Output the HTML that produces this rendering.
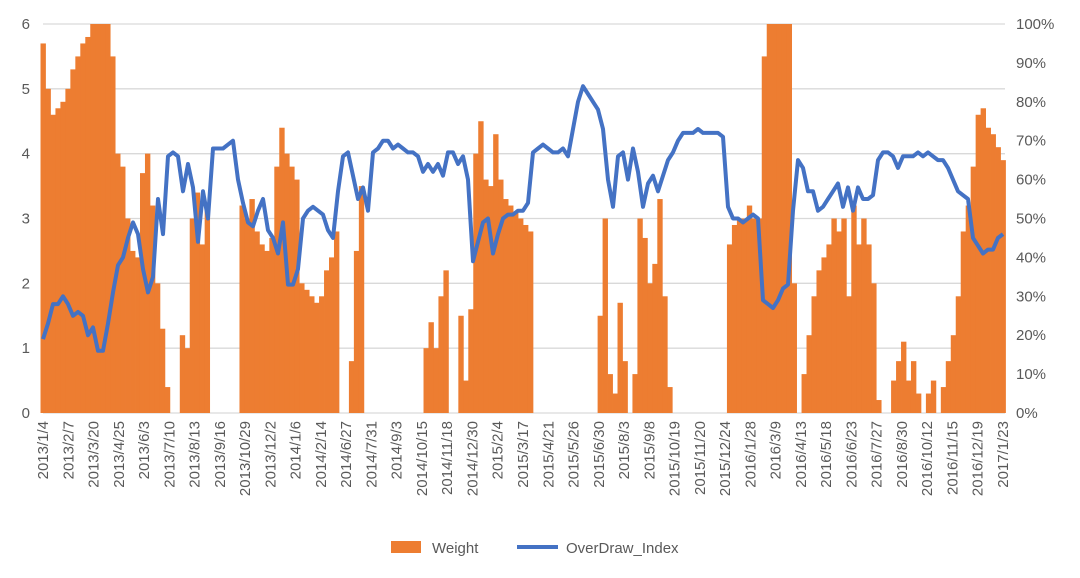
<!DOCTYPE html>
<html><head><meta charset="utf-8"><style>
body{margin:0;background:#fff;}
svg text{font-family:"Liberation Sans",sans-serif;fill:#595959;}
</style></head><body>
<svg id="chart" width="1080" height="573" viewBox="0 0 1080 573" xmlns="http://www.w3.org/2000/svg">
<g id="grid"></g>
<g id="bars"></g>
<g id="lineg"></g>
<g id="axes"></g>
<g>
<rect x="391" y="541" width="30" height="12" fill="#ED7D31"/>
<text x="432" y="553" font-size="15">Weight</text>
<line x1="517" y1="547" x2="558" y2="547" stroke="#4472C4" stroke-width="4"/>
<text x="566" y="553" font-size="15">OverDraw_Index</text>
</g>
</svg>
<script>
const leftTicks=["0","1","2","3","4","5","6"];
const rightTicks=["0%","10%","20%","30%","40%","50%","60%","70%","80%","90%","100%"];
const dateLabels=["2013/1/4","2013/2/7","2013/3/20","2013/4/25","2013/6/3","2013/7/10","2013/8/13","2013/9/16","2013/10/29","2013/12/2","2014/1/6","2014/2/14","2014/6/27","2014/7/31","2014/9/3","2014/10/15","2014/11/18","2014/12/30","2015/2/4","2015/3/17","2015/4/21","2015/5/26","2015/6/30","2015/8/3","2015/9/8","2015/10/19","2015/11/20","2015/12/24","2016/1/28","2016/3/9","2016/4/13","2016/5/18","2016/6/23","2016/7/27","2016/8/30","2016/10/12","2016/11/15","2016/12/19","2017/1/23"];
const weight=[5.7,5.0,4.6,4.7,4.8,5.0,5.3,5.5,5.7,5.8,6,6,6,6,5.5,4.0,3.8,3.0,2.5,2.4,3.7,4.0,3.2,2.0,1.3,0.4,0,0,1.2,1.0,3.0,3.4,2.6,3.2,0,0,0,0,0,0,3.2,3.0,3.3,2.8,2.6,2.5,2.7,3.8,4.4,4.0,3.8,3.6,2.0,1.9,1.8,1.7,1.8,2.2,2.4,2.8,0,0,0.8,2.5,3.5,0,0,0,0,0,0,0,0,0,0,0,0,1.0,1.4,1.0,1.8,2.2,0,0,1.5,0.5,1.6,4.0,4.5,3.6,3.5,4.3,3.6,3.3,3.2,3.1,3.0,2.9,2.8,0,0,0,0,0,0,0,0,0,0,0,0,0,1.5,3.0,0.6,0.3,1.7,0.8,0,0.6,3.0,2.7,2.0,2.3,3.3,1.8,0.4,0,0,0,0,0,0,0,0,0,0,0,2.6,2.9,3.0,3.0,3.2,3.0,3.0,5.5,6,6,6,6,6,2.0,0,0.6,1.2,1.8,2.2,2.4,2.6,3.0,2.8,3.0,1.8,3.2,2.6,3.0,2.6,2.0,0.2,0,0,0.5,0.8,1.1,0.5,0.8,0.3,0,0.3,0.5,0,0.4,0.8,1.2,1.8,2.8,3.2,3.8,4.6,4.7,4.4,4.3,4.1,3.9];
const overdraw=[19,23,28,28,30,28,25,26,25,20,22,16,16,23,31,38,40,45,49,46,37,31,35,55,46,66,67,66,57,64,58,44,57,50,68,68,68,69,70,60,54,49,48,52,55,47,45,41,49,33,33,37,50,52,53,52,51,47,45,57,66,67,61,55,58,52,67,68,70,70,68,69,68,67,67,66,62,64,62,64,61,67,67,64,66,60,39,44,49,50,41,46,50,51,51,52,52,54,67,68,69,68,67,67,68,66,73,80,84,82,80,78,73,60,53,66,67,60,68,62,53,59,61,57,61,65,67,70,72,72,72,73,72,72,72,72,71,53,50,50,49,50,51,50,29,28,27,29,32,33,52,65,63,57,57,52,53,55,57,59,53,58,52,58,55,55,56,65,67,67,66,63,66,66,66,67,66,67,66,65,65,63,60,57,56,55,45,43,41,42,42,45,46];
const NS="http://www.w3.org/2000/svg";
const X0=43,X1=1003,YT=24,YB=413;
function xIdx(i,n){return X0+i*(X1-X0)/(n-1);}
function yL(v){return YB-(v/6)*(YB-YT);}
function yR(p){return YB-(p/100)*(YB-YT);}
function mk(tag,attrs,parent){const e=document.createElementNS(NS,tag);for(const k in attrs)e.setAttribute(k,attrs[k]);parent.appendChild(e);return e;}
const grid=document.getElementById('grid'),bars=document.getElementById('bars'),lineg=document.getElementById('lineg'),axes=document.getElementById('axes');
leftTicks.forEach((t,i)=>{const y=yL(i);
 const g=mk('line',{x1:X0,x2:1005,y1:y,y2:y,stroke:'#d9d9d9','stroke-width':1.3},grid);
 
 
 const tx=mk('text',{x:30,y:y+5,'font-size':15,'text-anchor':'end'},axes);tx.textContent=t;
 
 
});
rightTicks.forEach((t,i)=>{const y=yR(i*10);
 const tx=mk('text',{x:1016,y:y+5,'font-size':15},axes);tx.textContent=t;
 
 
});
dateLabels.forEach((t,i)=>{const x=xIdx(i,dateLabels.length);
 const tx=mk('text',{x:0,y:0,'font-size':15,'text-anchor':'end',transform:`translate(${x+5},421) rotate(-90)`},axes);tx.textContent=t;
 
 
});
const n=weight.length,bw=(X1-X0)/(n-1);
weight.forEach((v,i)=>{if(v<=0)return;const x=xIdx(i,n);const y=yL(Math.min(v,6));
 const r=mk('rect',{x:x-bw/2,y:y,width:bw+0.4,height:YB-y,fill:'#ED7D31'},bars);
 
 
});
const m=overdraw.length;
const pts=overdraw.map((p,i)=>xIdx(i,m).toFixed(1)+','+yR(p).toFixed(1)).join(' ');
const pl=mk('polyline',{points:pts,fill:'none',stroke:'#4472C4','stroke-width':4,'stroke-linejoin':'round'},lineg);


</script>
</body></html>
